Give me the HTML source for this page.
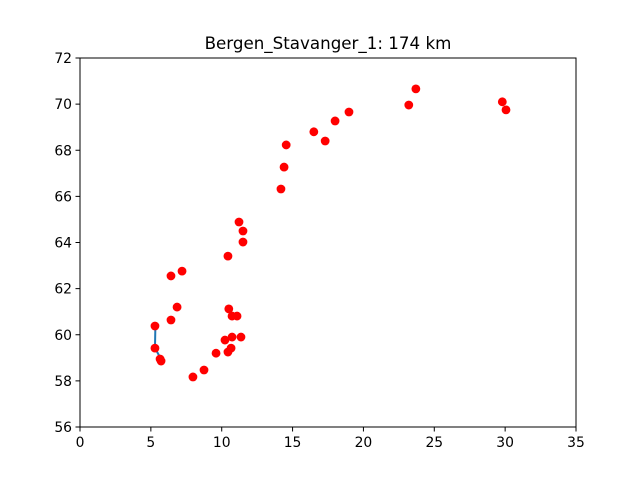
<!DOCTYPE html>
<html><head><meta charset="utf-8"><style>
body{margin:0;background:#fff;font-family:"DejaVu Sans","Liberation Sans",sans-serif}
text{font-family:"DejaVu Sans","Liberation Sans",sans-serif}
</style></head><body>
<svg id="chart" width="640" height="480" viewBox="0 0 640 480" xmlns="http://www.w3.org/2000/svg">
<rect width="640" height="480" fill="#fff"/>
<text x="328" y="49" text-anchor="middle" font-size="16.7">Bergen_Stavanger_1: 174 km</text>
<g id="marks"></g>
<rect x="80" y="58" width="496" height="369" fill="none" stroke="#000" stroke-width="1"/>
<g id="axes"></g>
</svg>
<script>
const xTicks=[0,5,10,15,20,25,30,35];
const yTicks=[56,58,60,62,64,66,68,70,72];
const lonValues=[5.29,5.29,5.65,5.72,6.42,7.2,6.85,6.42,7.97,8.75,9.6,10.23,10.44,10.66,10.5,10.73,11.08,10.73,11.36,10.44,11.22,11.5,11.5,14.18,14.4,14.55,16.5,17.3,18.0,18.98,23.2,23.7,29.8,30.06];
const latValues=[60.38,59.42,58.95,58.86,62.55,62.76,61.2,60.64,58.17,58.47,59.2,59.77,59.25,59.42,61.12,60.81,60.81,59.9,59.9,63.41,64.89,64.5,64.02,66.32,67.27,68.23,68.8,68.4,69.27,69.66,69.96,70.66,70.1,69.75];
const routeLon=[5.32,5.29,5.7];
const routeLat=[60.39,59.42,58.97];
const X=v=>80+(v-0)/(35-0)*496;
const Y=v=>427-(v-56)/(72-56)*369;
const NS='http://www.w3.org/2000/svg';
const marks=document.getElementById('marks');
const axes=document.getElementById('axes');
const pl=document.createElementNS(NS,'polyline');


pl.setAttribute('points',routeLon.map((v,i)=>X(v)+','+Y(routeLat[i])).join(' '));
pl.setAttribute('fill','none');pl.setAttribute('stroke','#1f77b4');pl.setAttribute('stroke-width','2');
marks.appendChild(pl);
lonValues.forEach((v,i)=>{
const c=document.createElementNS(NS,'circle');


c.setAttribute('cx',X(v));c.setAttribute('cy',Y(latValues[i]));c.setAttribute('r','4.4');c.setAttribute('fill','#ff0000');
marks.appendChild(c);
});
xTicks.forEach(t=>{
const l=document.createElementNS(NS,'line');


l.setAttribute('x1',X(t));l.setAttribute('x2',X(t));l.setAttribute('y1',427);l.setAttribute('y2',431.5);l.setAttribute('stroke','#000');
axes.appendChild(l);
const tx=document.createElementNS(NS,'text');


tx.setAttribute('x',X(t));tx.setAttribute('y',447);tx.setAttribute('text-anchor','middle');tx.setAttribute('font-size','13.9');
tx.textContent=t;axes.appendChild(tx);
});
yTicks.forEach(t=>{
const l=document.createElementNS(NS,'line');


l.setAttribute('x1',75.5);l.setAttribute('x2',80);l.setAttribute('y1',Y(t));l.setAttribute('y2',Y(t));l.setAttribute('stroke','#000');
axes.appendChild(l);
const tx=document.createElementNS(NS,'text');


tx.setAttribute('x',72);tx.setAttribute('y',Y(t)+5);tx.setAttribute('text-anchor','end');tx.setAttribute('font-size','13.9');
tx.textContent=t;axes.appendChild(tx);
});
</script>
</body></html>
